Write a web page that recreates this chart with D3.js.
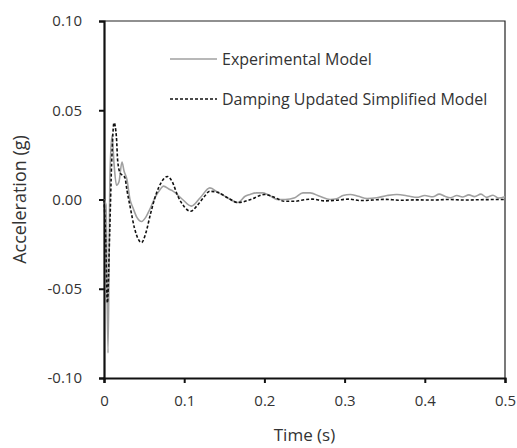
<!DOCTYPE html>
<html>
<head>
<meta charset="utf-8">
<script src="https://cdn.jsdelivr.net/npm/d3@7"></script>
<style>
  body { margin: 0; background: #fff; }
  text { font-family: "Open Sans", sans-serif; fill: #333; }
</style>
</head>
<body>
<svg id="chart"></svg>
<script>
// measured acceleration (g) vs time (s)
const expTime = [0, 0.0025, 0.005, 0.0075, 0.010, 0.0125, 0.0156, 0.0187, 0.0224, 0.025, 0.0287, 0.0324, 0.036, 0.041, 0.047, 0.052, 0.057, 0.0636, 0.07, 0.074, 0.082, 0.086, 0.098, 0.109, 0.120, 0.132, 0.142, 0.154, 0.167, 0.176, 0.182, 0.190, 0.198, 0.204, 0.217, 0.226, 0.238, 0.248, 0.257, 0.269, 0.282, 0.290, 0.298, 0.307, 0.317, 0.328, 0.340, 0.353, 0.365, 0.381, 0.39, 0.40, 0.41, 0.418, 0.425, 0.432, 0.44, 0.447, 0.455, 0.462, 0.47, 0.477, 0.485, 0.492, 0.5];
const expAcc = [0, -0.003, -0.086, 0.015, 0.036, 0.020, 0.008, 0.010, 0.021, 0.016, 0.011, 0.0, -0.0045, -0.010, -0.0123, -0.010, -0.0056, 0.001, 0.0056, 0.0075, 0.0056, 0.0047, 0.0, -0.0037, 0.001, 0.0065, 0.004, 0.001, -0.0017, 0.0018, 0.0028, 0.0037, 0.0037, 0.0028, 0.0, 0.0, 0.001, 0.0037, 0.0037, 0.0018, 0.0, 0.0004, 0.0022, 0.0028, 0.0018, 0.0006, 0.001, 0.0022, 0.0028, 0.0018, 0.0012, 0.0022, 0.0015, 0.0030, 0.0018, 0.0010, 0.0022, 0.0014, 0.0026, 0.0016, 0.0030, 0.0012, 0.0024, 0.0008, 0.0015];

// damping updated simplified model
const modelTime = [0, 0.002, 0.0042, 0.007, 0.0095, 0.0125, 0.0155, 0.017, 0.020, 0.026, 0.0287, 0.033, 0.038, 0.0468, 0.052, 0.058, 0.065, 0.072, 0.079, 0.085, 0.092, 0.1, 0.108, 0.116, 0.124, 0.132, 0.142, 0.154, 0.167, 0.183, 0.2, 0.213, 0.225, 0.238, 0.246, 0.26, 0.275, 0.29, 0.305, 0.32, 0.335, 0.35, 0.37, 0.39, 0.41, 0.43, 0.45, 0.47, 0.5];
const modelAcc = [0, -0.02, -0.058, -0.02, 0.02, 0.043, 0.035, 0.022, 0.015, 0.0123, 0.005, -0.005, -0.016, -0.0241, -0.019, -0.008, 0.003, 0.010, 0.0129, 0.010, 0.002, -0.004, -0.0066, -0.0035, 0.001, 0.0046, 0.004, 0.001, -0.0017, 0.0, 0.0028, 0.0011, -0.001, -0.001, -0.0004, 0.0002, -0.0008, -0.0004, 0.0002, -0.0006, -0.0003, 0.0001, -0.0004, -0.0002, -0.0003, 0.0, -0.0003, -0.0001, 0.0];

const xTicks = [0, 0.1, 0.2, 0.3, 0.4, 0.5];
const yTicks = [-0.10, -0.05, 0.00, 0.05, 0.10];
const seriesNames = ["Experimental Model", "Damping Updated Simplified Model"];

const width = 517, height = 448;
const margin = { top: 21, right: 12, bottom: 70, left: 104 };

const svg = d3.select("#chart").attr("width", width).attr("height", height);

const x = d3.scaleLinear().domain([0, 0.5]).range([margin.left, width - margin.right]);
const y = d3.scaleLinear().domain([-0.1, 0.1]).range([height - margin.bottom, margin.top]);

// frame top/right
svg.append("path")
    .attr("d", `M${x(0)},${y(0.1)}H${x(0.5)}V${y(-0.1)}`)
    .attr("fill", "none")
    .attr("stroke", "#222")
    .attr("stroke-width", 1.2);

// axes
const xAxis = svg.append("g")
    .attr("transform", `translate(0,${y(-0.1)})`)
    .call(d3.axisBottom(x).tickValues(xTicks).tickSize(5).tickPadding(12)
        .tickFormat(d => d === 0 ? "0" : d3.format(".1f")(d)));
const yAxis = svg.append("g")
    .attr("transform", `translate(${x(0)},0)`)
    .call(d3.axisLeft(y).tickValues(yTicks).tickSize(5).tickPadding(17)
        .tickFormat(d => d3.format(".2f")(d).replace("\u2212", "-")));

[xAxis, yAxis].forEach(g => {
    g.select(".domain").attr("stroke", "#111").attr("stroke-width", 2.2);
    g.selectAll(".tick line").attr("stroke", "#111").attr("stroke-width", 2);
    g.selectAll(".tick text").style("font-size", "15px").attr("fill", "#333");
});

// series
const line = d3.line()
    .x(d => x(d[0]))
    .y(d => y(d[1]))
    .curve(d3.curveMonotoneX);

const expData = expTime.map((t, i) => [t, expAcc[i]]);
const modelData = modelTime.map((t, i) => [t, modelAcc[i]]);

svg.append("path")
    .datum(expData)
    .attr("d", line)
    .attr("fill", "none")
    .attr("stroke", "#a0a0a0")
    .attr("stroke-width", 1.6);

svg.append("path")
    .datum(modelData)
    .attr("d", line)
    .attr("fill", "none")
    .attr("stroke", "#111")
    .attr("stroke-width", 1.6)
    .attr("stroke-dasharray", "3,2");

// legend
const legend = svg.append("g");
const legendRows = [
    { name: seriesNames[0], y: 59, stroke: "#a0a0a0", dash: null },
    { name: seriesNames[1], y: 99, stroke: "#111", dash: "3,2" }
];
legendRows.forEach(r => {
    legend.append("line")
        .attr("x1", 170).attr("x2", 217)
        .attr("y1", r.y).attr("y2", r.y)
        .attr("stroke", r.stroke)
        .attr("stroke-width", 1.6)
        .attr("stroke-dasharray", r.dash);
    legend.append("text")
        .attr("x", 222).attr("y", r.y)
        .attr("dy", "0.35em")
        .style("font-size", "16px")
        .text(r.name);
});

// axis titles
svg.append("text")
    .attr("x", (margin.left + width - margin.right) / 2)
    .attr("y", 435)
    .attr("dy", "0.35em")
    .attr("text-anchor", "middle")
    .style("font-size", "17px")
    .text("Time (s)");

svg.append("text")
    .attr("transform", `translate(20,${y(0)}) rotate(-90)`)
    .attr("dy", "0.35em")
    .attr("text-anchor", "middle")
    .style("font-size", "18px")
    .text("Acceleration (g)");
</script>
</body>
</html>
